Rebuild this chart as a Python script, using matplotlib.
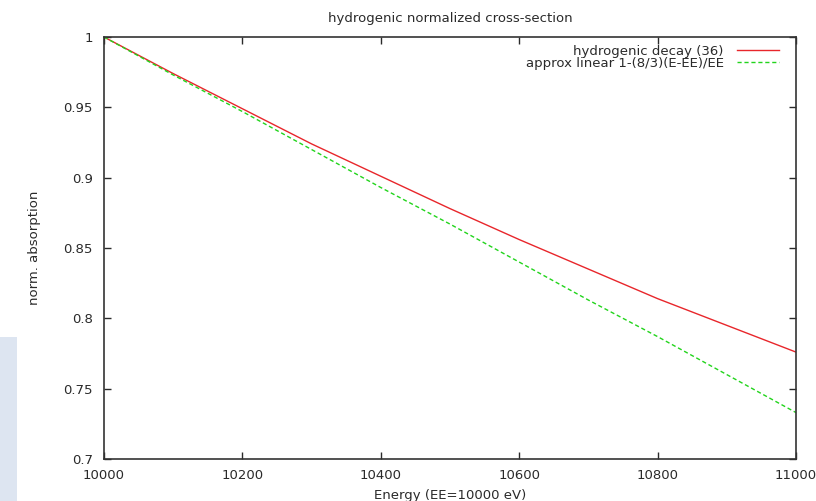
import matplotlib
matplotlib.use("Agg")
import matplotlib.pyplot as plt
from matplotlib.patches import Rectangle

plt.rcParams['font.family'] = ['DejaVu Sans']

energy = [10000, 10100, 10200, 10300, 10400, 10500, 10600, 10700, 10800, 10900, 11000]
hydrogenic = [1.000, 0.974, 0.949, 0.924, 0.901, 0.878, 0.856, 0.835, 0.814, 0.795, 0.776]
linear_approx = [1.000, 0.973, 0.947, 0.920, 0.893, 0.867, 0.840, 0.813, 0.787, 0.760, 0.733]
xticks = [10000, 10200, 10400, 10600, 10800, 11000]
yticks = [0.7, 0.75, 0.8, 0.85, 0.9, 0.95, 1.0]
ytick_labels = ['0.7', '0.75', '0.8', '0.85', '0.9', '0.95', '1']

fs = 9.5
tc = '#2a2a2a'
fig = plt.figure(figsize=(8.16, 5.01), dpi=100)
fig.patches.append(Rectangle((0, 0), 17/816, 164/501, transform=fig.transFigure,
                             facecolor='#dde5f1', edgecolor='none', zorder=0))
ax = fig.add_axes([104/816, 42/501, 692/816, 422/501])

ax.plot(energy, hydrogenic, color='#e8262b', lw=1.0, label='hydrogenic decay (36)')
ax.plot(energy, linear_approx, color='#22d41c', lw=1.0, ls=(0, (3, 2)),
        label='approx linear 1-(8/3)(E-EE)/EE')

ax.set_xlim(10000, 11000)
ax.set_ylim(0.7, 1.0)
ax.set_xticks(xticks)
ax.set_yticks(yticks)
ax.set_yticklabels(ytick_labels)
ax.tick_params(direction='in', length=5, width=1, top=True, right=True,
               labelsize=fs, colors=tc)
ax.tick_params(axis='y', pad=8)
ax.tick_params(axis='x', pad=7)
for s in ax.spines.values():
    s.set_color('#333333')
    s.set_linewidth(1.2)

ax.set_title('hydrogenic normalized cross-section', fontsize=fs, color=tc, pad=11)
ax.set_xlabel('Energy (EE=10000 eV)', fontsize=fs, color=tc, labelpad=5)
ax.set_ylabel('norm. absorption', fontsize=fs, color=tc, labelpad=16)

leg = ax.legend(loc='upper right', frameon=False, fontsize=fs, markerfirst=False,
                handlelength=3.2, bbox_to_anchor=(1.0 - 17/692, 1.0 - 8/422),
                borderaxespad=0.0, borderpad=0.0, labelspacing=-0.1,
                handletextpad=1.0)
for t in leg.get_texts():
    t.set_ha('right')
    t.set_color(tc)

fig.savefig('out.png', dpi=100)
